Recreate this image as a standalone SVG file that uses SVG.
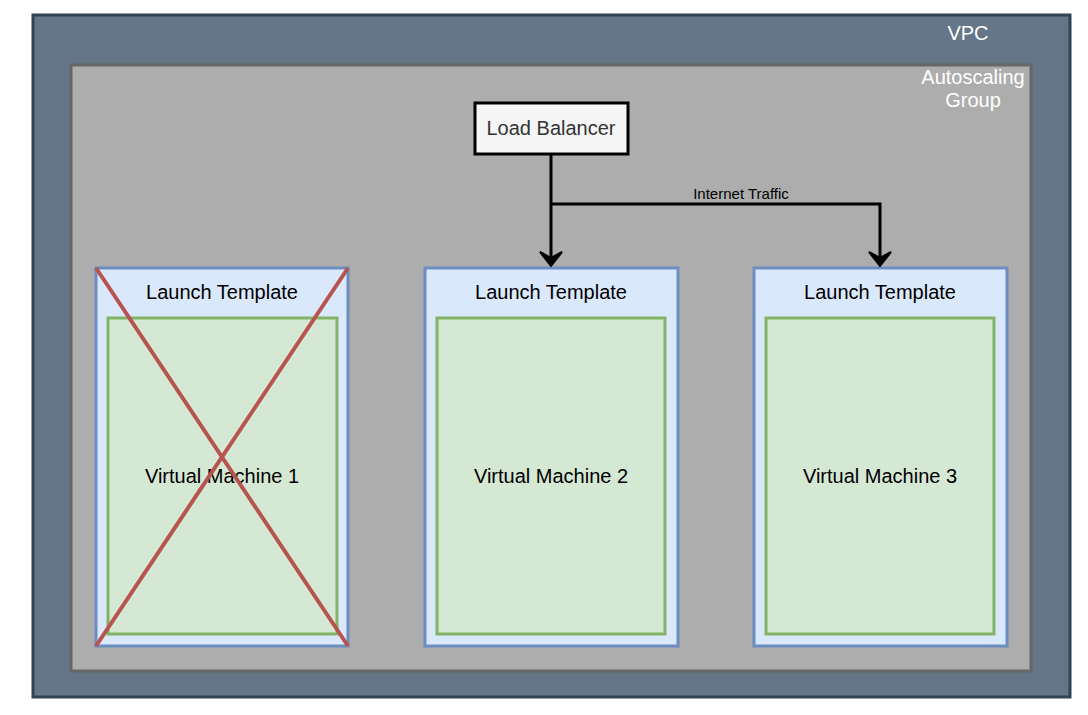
<svg xmlns="http://www.w3.org/2000/svg" width="1088" height="715" viewBox="0 0 1088 715">
<defs>
<style>
text{font-family:"Liberation Sans",Arial,sans-serif}
.lt{fill:#dae8fc;stroke:#6c8ebf;stroke-width:3}
.vm{fill:#d5e8d4;stroke:#82b366;stroke-width:3}
.t{font-size:20px;fill:#000;text-anchor:middle}
.w{font-size:20px;fill:#fff;text-anchor:middle}
.edge{fill:none;stroke:#000;stroke-width:3}
.x{stroke:#b85450;stroke-width:4}
.ah{fill:#000;stroke:#000;stroke-width:2}
</style>
</defs>
<rect width="1088" height="715" fill="#fff"/>
<g id="vpc">
<rect x="33" y="15" width="1037" height="682" fill="#647687" stroke="#314354" stroke-width="3"/>
<text class="w" x="968" y="40">VPC</text>
</g>
<g id="asg">
<rect x="71" y="65" width="960" height="606" fill="#adadad" stroke="#666" stroke-width="3"/>
<text class="w" x="973" y="84">Autoscaling</text>
<text class="w" x="973" y="107">Group</text>
</g>
<g id="lb">
<rect x="475" y="103" width="153" height="51" fill="#f5f5f5" stroke="#000" stroke-width="3"/>
<text class="t" x="551" y="135" style="fill:#333">Load Balancer</text>
</g>
<g id="lt1">
<rect class="lt" x="96" y="268" width="252" height="378"/>
<text class="t" x="222" y="299">Launch Template</text>
</g>
<g id="vm1">
<rect class="vm" x="108" y="318" width="229" height="316"/>
<text class="t" x="222" y="483">Virtual Machine 1</text>
</g>
<g id="cross">
<line class="x" x1="96" y1="268" x2="348" y2="646"/>
<line class="x" x1="348" y1="268" x2="96" y2="646"/>
</g>
<g id="lt2">
<rect class="lt" x="425" y="268" width="253" height="378"/>
<text class="t" x="551" y="299">Launch Template</text>
</g>
<g id="vm2">
<rect class="vm" x="437" y="318" width="228" height="316"/>
<text class="t" x="551" y="483">Virtual Machine 2</text>
</g>
<g id="lt3">
<rect class="lt" x="754" y="268" width="253" height="378"/>
<text class="t" x="880" y="299">Launch Template</text>
</g>
<g id="vm3">
<rect class="vm" x="766" y="318" width="228" height="316"/>
<text class="t" x="880" y="483">Virtual Machine 3</text>
</g>
<g id="connectors">
<path class="edge" d="M551,154 L551,260"/>
<path class="edge" d="M551,204 L880,204 L880,260"/>
<path class="ah" d="M540,252 L551,266 L562,252 L551,258 Z"/>
<path class="ah" d="M869,252 L880,266 L891,252 L880,258 Z"/>
<text x="741" y="199" font-size="15" text-anchor="middle" fill="#000">Internet Traffic</text>
</g>
</svg>
